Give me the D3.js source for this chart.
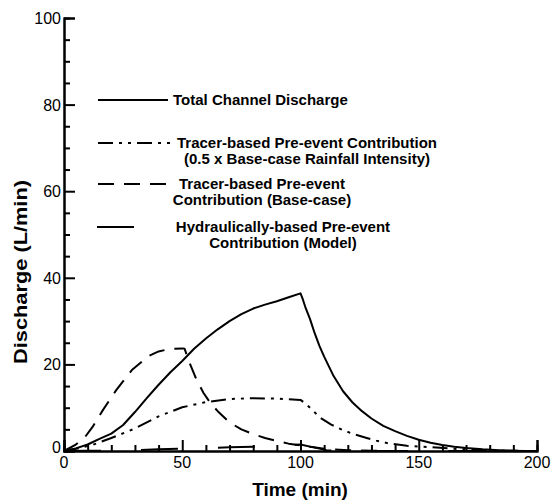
<!DOCTYPE html>
<html>
<head>
<meta charset="utf-8">
<script src="https://cdn.jsdelivr.net/npm/d3@7"></script>
<style>
  html, body { margin: 0; padding: 0; background: #fff; }
  svg { display: block; font-family: "Liberation Sans", Arial, Helvetica, sans-serif; }
</style>
</head>
<body>
<svg id="chart" width="555" height="500"></svg>
<script>
// ---- Data ----
const totalTime = [0,5,10,15,20,25,30,35,40,45,50,55,60,65,70,75,80,85,90,95,100,101,102,104,106,108,110,114,118,122,126,130,135,140,145,150,155,160,165,170,177,184,192,200];
const totalQ    = [0,0.6,1.5,2.8,4.0,6.0,9.0,12.2,15.3,18.2,20.8,23.6,26.0,28.1,30.0,31.6,32.9,33.8,34.6,35.5,36.4,35.0,33.3,30.5,27.2,24.3,21.8,17.3,13.8,11.2,9.2,7.5,5.8,4.6,3.5,2.6,1.9,1.4,1.0,0.7,0.4,0.2,0.05,0];

const halfTime = [0,5,12,20,30,40,50,60,70,80,90,100,102,105,108,113,118,123,128,132,137,145,155,165,175,185,195,200];
const halfQ    = [0,0.5,1.4,3.0,5.2,8.0,10.1,11.3,12.0,12.2,12.1,11.8,11.0,9.5,7.8,6.1,4.8,3.8,3.0,2.4,1.8,1.2,0.9,0.5,0.25,0.08,0.02,0];

const baseTime = [0,5,9,12,16.5,22,28.7,36,40,45,50,51,53,56,59,62,65,70,75,80,85,90,95,100,105,110,120,130,140];
const baseQ    = [0,1.5,3.3,5.5,9.5,14.0,18.7,22.0,23.0,23.6,23.7,23.6,20.5,16.5,13.4,11.0,9.2,6.6,5.0,3.9,3.0,2.3,1.7,1.3,0.9,0.5,0.2,0.05,0];

const hydTime = [0,10,20,30,40,50,60,70,80,90,95,100,105,111,115,130,160,200];
const hydQ    = [0,0.03,0.08,0.2,0.4,0.55,0.7,0.85,1.0,1.2,1.35,1.5,0.9,0.2,0,0,0,0];

const xTicksMajor = [0,50,100,150,200];
const yTicksMajor = [0,20,40,60,80,100];

const seriesNames = [
  ["Total Channel Discharge"],
  ["Tracer-based Pre-event Contribution", "(0.5 x Base-case Rainfall Intensity)"],
  ["Tracer-based Pre-event", "Contribution (Base-case)"],
  ["Hydraulically-based Pre-event", "Contribution (Model)"]
];
const xTitle = "Time (min)";
const yTitle = "Discharge (L/min)";

// ---- Layout ----
const svg = d3.select("#chart");
const x = d3.scaleLinear().domain([0, 200]).range([64, 537]);
const y = d3.scaleLinear().domain([0, 100]).range([451, 18]);

const styles = [
  { dash: null },
  { dash: "15,6,3,6,3,6" },
  { dash: "16,10" },
  { dash: "37,40" }
];

const series = [
  d3.zip(totalTime, totalQ),
  d3.zip(halfTime, halfQ),
  d3.zip(baseTime, baseQ),
  d3.zip(hydTime, hydQ)
];

const line = d3.line().x(d => x(d[0])).y(d => y(d[1])).curve(d3.curveLinear);

// Curves
series.forEach((s, i) => {
  svg.append("path")
    .datum(s)
    .attr("d", line)
    .attr("fill", "none")
    .attr("stroke", "#000")
    .attr("stroke-width", 2)
    .attr("stroke-linejoin", "round")
    .attr("stroke-dasharray", styles[i].dash);
});

// Axes (ticks pointing inward)
const xMinor = d3.range(0, 201, 10).filter(v => v % 50 !== 0);
const yMinor = d3.range(0, 101, 5).filter(v => v % 20 !== 0);

const xAxisMinor = d3.axisTop(x).tickValues(xMinor).tickSize(6).tickFormat("");
const xAxisMajor = d3.axisTop(x).tickValues(xTicksMajor).tickSize(11).tickFormat("");
const yAxisMinor = d3.axisRight(y).tickValues(yMinor).tickSize(6).tickFormat("");
const yAxisMajor = d3.axisRight(y).tickValues(yTicksMajor).tickSize(11).tickFormat("");

function styleAxis(g) {
  g.selectAll("path").attr("stroke", "#000").attr("stroke-width", 2);
  g.selectAll("line").attr("stroke", "#000").attr("stroke-width", 2);
}
svg.append("g").attr("transform", "translate(0,451)").call(xAxisMinor).call(styleAxis);
svg.append("g").attr("transform", "translate(0,451)").call(xAxisMajor).call(styleAxis);
svg.append("g").attr("transform", "translate(64,0)").call(yAxisMinor).call(styleAxis);
svg.append("g").attr("transform", "translate(64,0)").call(yAxisMajor).call(styleAxis);

// Tick labels
svg.append("g").selectAll("text").data(xTicksMajor).join("text")
  .attr("x", d => x(d)).attr("y", 468)
  .attr("text-anchor", "middle").attr("font-size", 16).text(d => d);
svg.append("g").selectAll("text").data(yTicksMajor).join("text")
  .attr("x", 61).attr("y", d => y(d) + 6 - (d === 0 ? 4 : 0))
  .attr("text-anchor", "end").attr("font-size", 16).text(d => d);

// Axis titles
svg.append("text").attr("x", 300).attr("y", 496).attr("text-anchor", "middle")
  .attr("font-size", 19).attr("font-weight", "bold").text(xTitle);
svg.append("text").attr("transform", "translate(27,272) rotate(-90)").attr("text-anchor", "middle")
  .attr("font-size", 19).attr("font-weight", "bold")
  .attr("textLength", 184).attr("lengthAdjust", "spacingAndGlyphs").text(yTitle);

// Legend
const legendItems = [
  { y: 100, x1: 98, x2: 168, tx: 173, anchor: "start" },
  { y: 143, x1: 98, x2: 170, tx: 307, anchor: "middle" },
  { y: 184, x1: 98, x2: 170, tx: 262, anchor: "middle" },
  { y: 227, x1: 97, x2: 138, tx: 283, anchor: "middle" }
];
legendItems.forEach((it, i) => {
  svg.append("line").attr("x1", it.x1).attr("x2", it.x2).attr("y1", it.y).attr("y2", it.y)
    .attr("stroke", "#000").attr("stroke-width", 2).attr("stroke-dasharray", styles[i].dash);
  seriesNames[i].forEach((t, j) => {
    svg.append("text").attr("x", it.tx).attr("y", it.y + 5 + j * 16)
      .attr("text-anchor", it.anchor).attr("font-size", 15).attr("font-weight", "bold").text(t);
  });
});
</script>
</body>
</html>
